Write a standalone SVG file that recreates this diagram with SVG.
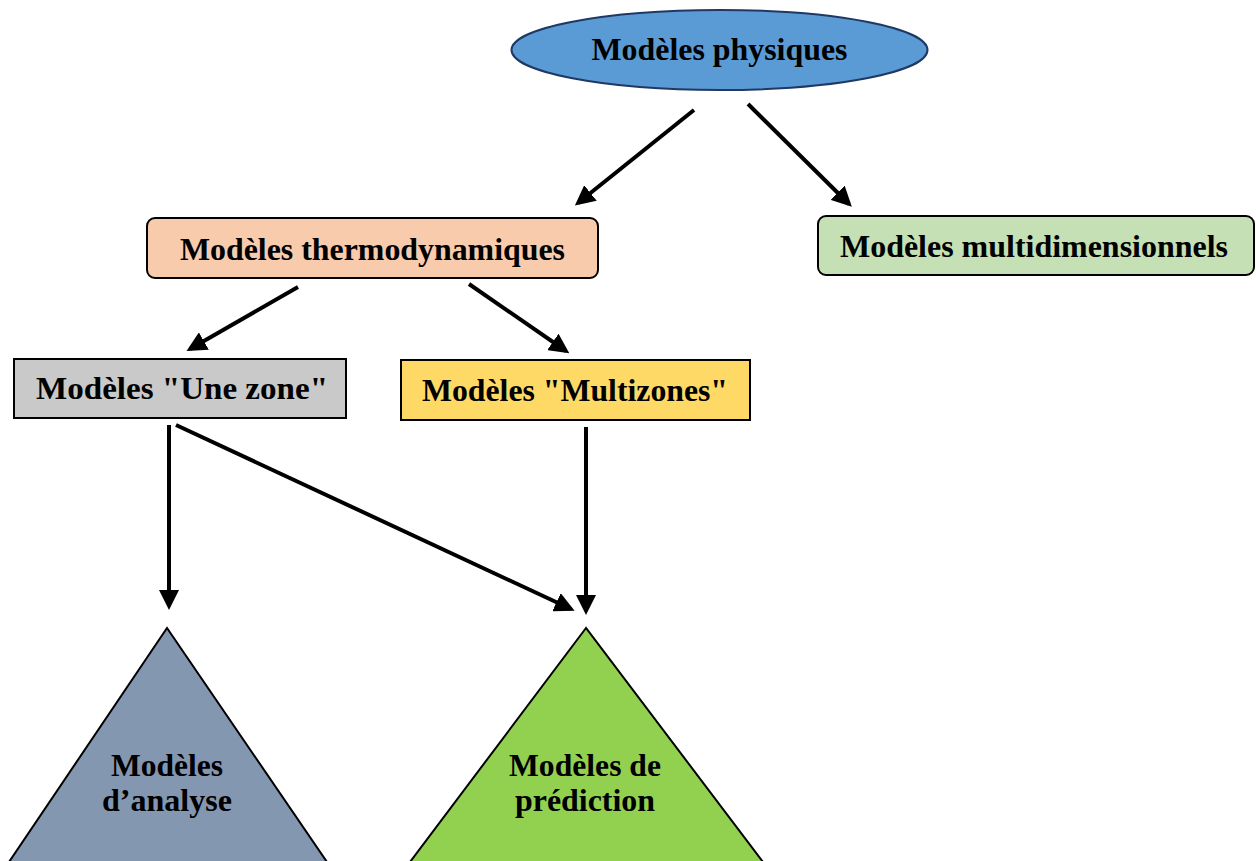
<svg xmlns="http://www.w3.org/2000/svg" width="1256" height="861" viewBox="0 0 1256 861">
<defs>
<marker id="ah" markerWidth="5" markerHeight="5" refX="4" refY="2.5" orient="auto" markerUnits="strokeWidth">
<path d="M0,0 L5,2.5 L0,5 z" fill="#000"/>
</marker>
<style>
text{font-family:"Liberation Serif","Times New Roman",serif;font-weight:bold;fill:#000;text-anchor:middle}
.t{font-size:32px}
.box{stroke:#000;stroke-width:2}
.con line{stroke:#000;stroke-width:4;marker-end:url(#ah)}
</style>
</defs>
<rect width="1256" height="861" fill="#fff"/>
<g id="physiques">
<ellipse cx="719.5" cy="50" rx="208" ry="40" fill="#5B9BD5" stroke="#1F3864" stroke-width="2"/>
<text class="t" x="719.5" y="60" textLength="256" lengthAdjust="spacingAndGlyphs">Modèles physiques</text>
</g>
<g id="thermo">
<rect class="box" x="147" y="218" width="451" height="60" rx="8" fill="#F8CBAD"/>
<text class="t" x="372.5" y="260" textLength="385" lengthAdjust="spacingAndGlyphs">Modèles thermodynamiques</text>
</g>
<g id="multidim">
<rect class="box" x="818" y="216" width="436" height="59" rx="8" fill="#C5E0B4"/>
<text class="t" x="1034" y="257" textLength="388" lengthAdjust="spacingAndGlyphs">Modèles multidimensionnels</text>
</g>
<g id="unezone">
<rect class="box" x="14" y="359" width="332" height="59" fill="#C9C9C9"/>
<text class="t" x="182" y="399" textLength="292" lengthAdjust="spacingAndGlyphs">Modèles "Une zone"</text>
</g>
<g id="multizones">
<rect class="box" x="401" y="360" width="349" height="60" fill="#FFD966"/>
<text class="t" x="575" y="401" textLength="306" lengthAdjust="spacingAndGlyphs">Modèles "Multizones"</text>
</g>
<g id="analyse">
<polygon class="box" points="167,628 9,862 327,862" fill="#8497B0"/>
<text class="t" x="167" y="776" textLength="112" lengthAdjust="spacingAndGlyphs">Modèles</text>
<text class="t" x="167" y="811" textLength="130" lengthAdjust="spacingAndGlyphs">d’analyse</text>
</g>
<g id="prediction">
<polygon class="box" points="586,628 410,862 763,862" fill="#92D050"/>
<text class="t" x="585" y="776" textLength="152" lengthAdjust="spacingAndGlyphs">Modèles de</text>
<text class="t" x="585" y="811" textLength="140" lengthAdjust="spacingAndGlyphs">prédiction</text>
</g>
<g class="con" id="connectors">
<line x1="694" y1="110" x2="578" y2="203"/>
<line x1="748" y1="104" x2="849" y2="204"/>
<line x1="298" y1="287" x2="190" y2="349"/>
<line x1="469" y1="284" x2="566" y2="351"/>
<line x1="169" y1="425" x2="169" y2="606"/>
<line x1="176" y1="425" x2="571" y2="609"/>
<line x1="586" y1="427" x2="586" y2="611"/>
</g>
</svg>
